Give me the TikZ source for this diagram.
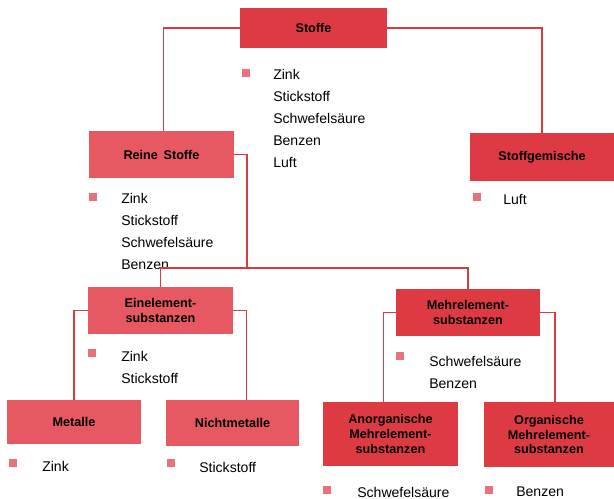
\documentclass[tikz,border=0pt]{standalone}
\usepackage{fontspec}
\setmainfont{Liberation Sans}
\usetikzlibrary{positioning}
\definecolor{boxred}{RGB}{221,58,68}
\definecolor{boxlight}{RGB}{230,88,98}
\definecolor{linered}{RGB}{212,62,62}
\definecolor{bulletred}{RGB}{234,112,122}
\tikzset{block/.style={text centered, align=center, fill=boxred, inner sep=0pt, font=\fontsize{9}{10.5}\selectfont\bfseries}}
\tikzset{connect/.style={draw=linered, line width=0.8pt}}
\tikzset{bulletsq/.style={fill=bulletred, minimum size=0.22cm, inner sep=0pt}}
\tikzset{liste/.style={anchor=north west, inner sep=0pt, align=left, font=\fontsize{10}{15.6}\selectfont}}

\begin{document}
\begin{tikzpicture}[x=0.025cm,y=-0.025cm]
\useasboundingbox (0,0) rectangle (614,499);

%top level
\node[block,minimum width=3.675cm,minimum height=1cm] (stoffe) at (313.5,28) {Stoffe};
\node[bulletsq] (b_stoffe) at (246,73) {};
\node[liste] (l_stoffe) at (273,69) {Zink\\Stickstoff\\Schwefelsäure\\Benzen\\Luft};

%second level
\node[block,fill=boxlight,minimum width=3.625cm,minimum height=1.175cm] (reine) at (161.5,154.5) {Reine\, Stoffe};
\node[bulletsq] (b_reine) at (93,197) {};
\node[liste] (l_reine) at (121,193) {Zink\\Stickstoff\\Schwefelsäure\\Benzen};

\node[block,minimum width=3.6cm,minimum height=1.2cm] (gemische) at (542,157) {Stoffgemische};
\node[bulletsq] (b_gemische) at (477,197) {};
\node[liste] (l_gemische) at (503,194) {Luft};

%third level
\node[block,fill=boxlight,minimum width=3.625cm,minimum height=1.175cm] (einel) at (160.5,310.5) {Einelement-\\substanzen};
\node[bulletsq] (b_einel) at (92,353) {};
\node[liste] (l_einel) at (121,351) {Zink\\Stickstoff};

\node[block,minimum width=3.6cm,minimum height=1.175cm] (mehr) at (468,312.5) {Mehrelement-\\substanzen};
\node[bulletsq] (b_mehr) at (400,356) {};
\node[liste] (l_mehr) at (429,356) {Schwefelsäure\\Benzen};

%leaves
\node[block,fill=boxlight,minimum width=3.35cm,minimum height=1.1cm] (metalle) at (74,422) {Metalle};
\node[bulletsq] (b_metalle) at (13,463) {};
\node[liste] (l_metalle) at (42,461) {Zink};

\node[block,fill=boxlight,minimum width=3.325cm,minimum height=1.15cm] (nicht) at (232.5,423) {Nichtmetalle};
\node[bulletsq] (b_nicht) at (171,463) {};
\node[liste] (l_nicht) at (199,462) {Stickstoff};

\node[block,minimum width=3.375cm,minimum height=1.6cm] (anorg) at (390.5,434) {Anorganische\\Mehrelement-\\substanzen};
\node[bulletsq] (b_anorg) at (327,490) {};
\node[liste] (l_anorg) at (357,487) {Schwefelsäure};

\node[block,minimum width=3.25cm,minimum height=1.625cm] (org) at (549,434.5) {Organische\\Mehrelement-\\substanzen};
\node[bulletsq] (b_org) at (489,490) {};
\node[liste] (l_org) at (516,487) {Benzen};

%connections
\coordinate (split) at (247,268);
\path[connect] (stoffe.west) -| ([xshift=0.04cm]reine.north);
\path[connect] (stoffe.east) -| (gemische.north);
\path[connect] (reine.east) -| (split);
\path[connect] (einel.north) |- (split) -| (mehr.north);
\path[connect] (einel.west) -| (metalle.north);
\path[connect] (einel.east) -| ([xshift=0.36cm]nicht.north);
\path[connect] (mehr.west) -| ([xshift=-0.18cm]anorg.north);
\path[connect] (mehr.east) -| ([xshift=0.15cm]org.north);

\end{tikzpicture}
\end{document}
